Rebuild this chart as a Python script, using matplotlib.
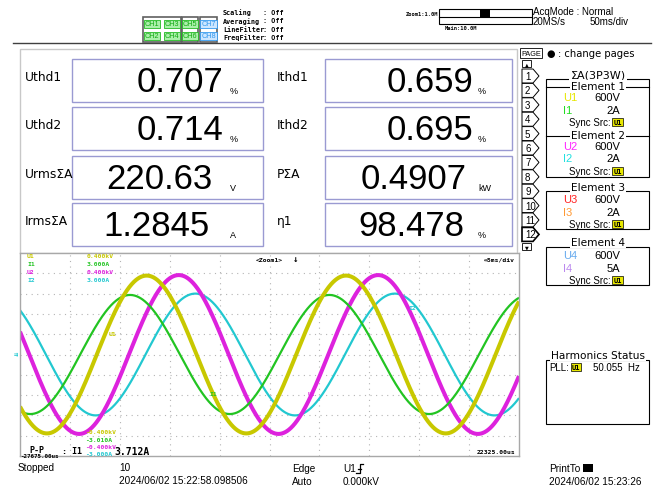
import numpy as np
import matplotlib.pyplot as plt
from matplotlib.patches import Rectangle, Polygon

plt.rcParams['font.family'] = ['DejaVu Sans']
NARROW = ['Liberation Sans Narrow', 'Liberation Sans', 'DejaVu Sans']
MONO = ['DejaVu Sans Mono']

# numeric panel
left_labels = ['Uthd1', 'Uthd2', 'UrmsΣA', 'IrmsΣA']
left_values = ['0.707', '0.714', '220.63', '1.2845']
left_units = ['%', '%', 'V', 'A']
right_labels = ['Ithd1', 'Ithd2', 'PΣA', 'η1']
right_values = ['0.659', '0.695', '0.4907', '98.478']
right_units = ['%', '%', 'kW', '%']

# waveform channels
wave_names = ['U1', 'I1', 'U2', 'I2']
wave_full_scale = [400.0, 3.0, 400.0, 3.0]
wave_top_txt = ['0.400kV', '3.000A', '0.400kV', '3.000A']
wave_bot_txt = ['-0.400kV', '-3.010A', '-0.400kV', '-3.000A']
wave_peak = [311.0, 1.76, 313.0, 1.80]
wave_phase_deg = [0.0, 30.0, -58.0, -88.0]
wave_colors = ['#c8c800', '#22c422', '#dd22dd', '#22c8d0']
wave_lw = [2.9, 1.6, 2.9, 1.6]
freq_hz = 50.055
t_start_us, t_end_us = -27675.0, 22325.0
pp_text = '3.712A'

# element settings
elem_u = ['U1', 'U2', 'U3', 'U4']
elem_i = ['I1', 'I2', 'I3', 'I4']
elem_u_rng = ['600V', '600V', '600V', '600V']
elem_i_rng = ['2A', '2A', '2A', '5A']
elem_u_col = ['#e6e600', '#ff22ff', '#ff2222', '#66aaee']
elem_i_col = ['#22dd22', '#22e0e0', '#ff9933', '#bb88ee']

fig = plt.figure(figsize=(6.66, 4.89), dpi=100)
ax = fig.add_axes([0, 0, 1, 1])
ax.set_xlim(0, 666)
ax.set_ylim(489, 0)
ax.axis('off')


def txt(x, y, s, size=6, color='black', family=MONO, ha='left', va='center', **kw):
    ax.text(x, y, s, fontsize=size, color=color, family=family, ha=ha, va=va, **kw)


def rect(x0, y0, x1, y1, ec='black', fc='none', lw=0.8, **kw):
    ax.add_patch(Rectangle((x0, y0), x1 - x0, y1 - y0, ec=ec, fc=fc, lw=lw, **kw))


# ---------------- header ----------------
ax.plot([13, 651], [44, 44], color='#404040', lw=1)
for gx0, gx1 in [(143, 181), (182, 198), (200, 217)]:
    rect(gx0, 18, gx1, 43, ec='#606060', lw=1.2)
ch_boxes = [('CH1', 152, 25), ('CH3', 172, 25), ('CH2', 152, 37), ('CH4', 172, 37),
            ('CH5', 190, 25), ('CH6', 190, 37), ('CH7', 208.5, 25), ('CH8', 208.5, 37)]
for name, cx, cy in ch_boxes:
    blue = name in ('CH7', 'CH8')
    ax.text(cx, cy, name, fontsize=5.2, family=NARROW, ha='center', va='center',
            color='#3399ee' if blue else '#11aa11',
            bbox=dict(boxstyle='square,pad=0.12', fc='#cce6ff' if blue else '#aaf0aa',
                      ec='#3399ee' if blue else '#22bb22', lw=0.6))
for i, s in enumerate(['Scaling', 'Averaging', 'LineFilter', 'FreqFilter']):
    y = 13 + 8.3 * i
    txt(223, y, s, size=4.9, weight='bold')
    txt(263, y, ': Off', size=4.9, weight='bold')

txt(438, 14, 'Zoom1:1.0M', size=3.9, ha='right', weight='bold')
rect(439, 10, 532, 25, lw=0.8)
ax.plot([439, 532], [17.5, 17.5], color='black', lw=0.8)
rect(480, 11, 490, 17.5, fc='black', lw=0)
txt(445, 29, 'Main:10.0M', size=3.9, weight='bold')
txt(533, 12, 'AcqMode : Normal', size=7, family=NARROW)
txt(533, 22, '20MS/s', size=7, family=NARROW)
txt(590, 22, '50ms/div', size=7, family=NARROW)

# ---------------- numeric panel ----------------
rect(20, 50, 517, 254, ec='#c8c8c8', lw=1)
row_top = [60, 108, 157, 204]
left_right_edge = [223, 223, 212, 210]
right_right_edge = [473, 473, 467, 464]
for r in range(4):
    y0 = row_top[r]
    y1 = y0 + 43
    yc = (y0 + y1) / 2
    for lx, bx0, bx1, edges, ux, labels, values, units in [
            (25, 72, 263, left_right_edge, 230, left_labels, left_values, left_units),
            (277, 325, 512, right_right_edge, 478, right_labels, right_values, right_units)]:
        rect(bx0, y0, bx1, y1, ec='#9a9ad2', lw=1)
        txt(lx, yc - 4, labels[r], size=8.8, family=['DejaVu Sans'])
        txt(edges[r], yc + 1, values[r], size=25, family=NARROW, ha='right')
        txt(ux, yc + 10, units[r], size=6.5, family=NARROW)

# ---------------- right panel ----------------
ax.text(531, 54, 'PAGE', fontsize=5.2, family=NARROW, ha='center', va='center',
        bbox=dict(boxstyle='square,pad=0.2', fc='white', ec='black', lw=0.6))
txt(551, 54, '●', size=7, ha='center', family=['DejaVu Sans'])
txt(558, 54, ': change pages', size=7.2, family=['DejaVu Sans'])
rect(522, 61, 531, 68, lw=0.6)
txt(526.5, 64.5, '▲', size=3.5, ha='center', family=['DejaVu Sans'])
for k in range(12):
    yc = 77 + 14.4 * k
    ax.add_patch(Polygon([(522, yc - 7), (533, yc - 7), (539, yc), (533, yc + 7), (522, yc + 7)],
                         closed=True, fc='white', ec='black', lw=1.2 if k == 11 else 0.7))
    txt(525, yc, str(k + 1), size=7, family=NARROW)
rect(522, 244, 531, 251, lw=0.6)
txt(526.5, 247.5, '▼', size=3.5, ha='center', family=['DejaVu Sans'])

# element boxes
title_bbox = dict(boxstyle='square,pad=0.1', fc='white', ec='none')
rect(546, 80, 649, 178, lw=0.8)
ax.text(598, 76, 'ΣA(3P3W)', fontsize=8, family=['DejaVu Sans'], ha='center', va='center', bbox=title_bbox)
ax.plot([546, 649], [88, 88], color='black', lw=0.8)
ax.plot([546, 649], [137, 137], color='black', lw=0.8)
rect(546, 192, 649, 230, lw=0.8)
rect(546, 248, 649, 286, lw=0.8)
elem_title_y = [87, 136, 188, 243]
elem_u_y = [98, 147, 200, 256]
for e in range(4):
    ax.text(598, elem_title_y[e], 'Element %d' % (e + 1), fontsize=7.6, family=['DejaVu Sans'],
            ha='center', va='center', bbox=title_bbox)
    yu = elem_u_y[e]
    txt(563, yu, elem_u[e], size=8, family=NARROW, color=elem_u_col[e])
    txt(620, yu, elem_u_rng[e], size=8, family=NARROW, ha='right')
    txt(563, yu + 12.5, elem_i[e], size=8, family=NARROW, color=elem_i_col[e])
    txt(620, yu + 12.5, elem_i_rng[e], size=8, family=NARROW, ha='right')
    txt(569, yu + 25, 'Sync Src:', size=7, family=NARROW)
    ax.text(617.5, yu + 25, 'U1', fontsize=5, family=MONO, weight='bold', ha='center', va='center',
            bbox=dict(boxstyle='square,pad=0.12', fc='#e8e800', ec='black', lw=0.5))

# harmonics status
rect(546, 361, 649, 425, lw=0.8)
ax.text(598, 356, 'Harmonics Status', fontsize=7.6, family=['DejaVu Sans'],
        ha='center', va='center', bbox=title_bbox)
txt(549, 368, 'PLL:', size=7, family=NARROW)
ax.text(576, 368, 'U1', fontsize=5, family=MONO, weight='bold', ha='center', va='center',
        bbox=dict(boxstyle='square,pad=0.12', fc='#e8e800', ec='black', lw=0.5))
txt(593, 368, '%.3f  Hz' % freq_hz, size=7, family=NARROW)

# ---------------- waveform ----------------
wx0, wx1, wy0, wy1 = 20, 519, 254, 457
wax = fig.add_axes([wx0 / 666, 1 - wy1 / 489, (wx1 - wx0) / 666, (wy1 - wy0) / 489])
t0, t1 = t_start_us / 1000, t_end_us / 1000
wax.set_xlim(t0, t1)
wax.set_ylim(-5, 5)
wax.set_xticks([])
wax.set_yticks([])
for sp in wax.spines.values():
    sp.set_color('#a8a8a8')
    sp.set_linewidth(1)
for k in range(1, 10):
    wax.axvline(t0 + k * (t1 - t0) / 10, color='#b4b4b4', lw=0.8, ls=(0, (1, 4)))
for k in range(-4, 5):
    wax.axhline(k, color='#b4b4b4', lw=0.8, ls=(0, (1, 4)))

t = np.linspace(t0, t1, 3000)
for i in [3, 2, 1, 0]:
    y = wave_peak[i] * np.sin(2 * np.pi * freq_hz * t / 1000 + np.radians(wave_phase_deg[i]))
    wax.plot(t, y / wave_full_scale[i] * 5, color=wave_colors[i], lw=wave_lw[i],
             solid_capstyle='butt')


def wtxt(x, y, s, size=4.6, color='black', ha='left', **kw):
    wax.text(x, y, s, fontsize=size, color=color, family=MONO, ha=ha, va='center',
             transform=ax.transData, clip_on=False, weight='bold', **kw)


for i in range(4):
    wtxt(27, 257 + 8 * i, wave_names[i], color=wave_colors[i])
    wtxt(87, 257 + 8 * i, wave_top_txt[i], color=wave_colors[i])
    wtxt(85, 433 + 7.2 * i, wave_bot_txt[i], color=wave_colors[i])
trace_lbl = [(109, 335), (209, 394), (308, 394), (408, 308)]
for i in range(4):
    wtxt(trace_lbl[i][0], trace_lbl[i][1], wave_names[i], color=wave_colors[i])
wtxt(256, 260, '<Zoom1>')
wtxt(293, 260, '↓', size=6.5)
wtxt(515, 260, '⇔5ms/div', ha='right')
wtxt(20, 456.5, '%.2fus' % t_start_us, size=4.2)
wtxt(29, 450.5, 'P-P', size=6)
wtxt(62, 452, ': I1', size=6)
wtxt(114, 452, pp_text, size=7)
wtxt(515, 453, '%.2fus' % t_end_us, ha='right')
wtxt(14, 355, '⇉', color='#22c8d0', size=5)

# ---------------- status bar ----------------
txt(18, 468, 'Stopped', size=7.2, family=NARROW)
txt(119, 468, '10', size=7.2, family=NARROW)
txt(119, 481, '2024/06/02 15:22:58.098506', size=7.2, family=NARROW)
txt(292, 469, 'Edge', size=7.2, family=NARROW)
txt(292, 482, 'Auto', size=7.2, family=NARROW)
txt(343, 469, 'U1', size=7.2, family=NARROW)
ax.plot([356, 359.5, 359.5, 363], [474, 474, 465, 465], color='black', lw=0.9)
ax.plot([358, 361], [470, 470], color='black', lw=0.9)
txt(343, 482, '0.000kV', size=7.2, family=NARROW)
txt(549, 469, 'PrintTo', size=7.2, family=NARROW)
rect(583, 465, 593, 473, fc='black', lw=0)
txt(549, 482, '2024/06/02 15:23:26', size=7.2, family=NARROW)

fig.savefig('out.png', dpi=100)
